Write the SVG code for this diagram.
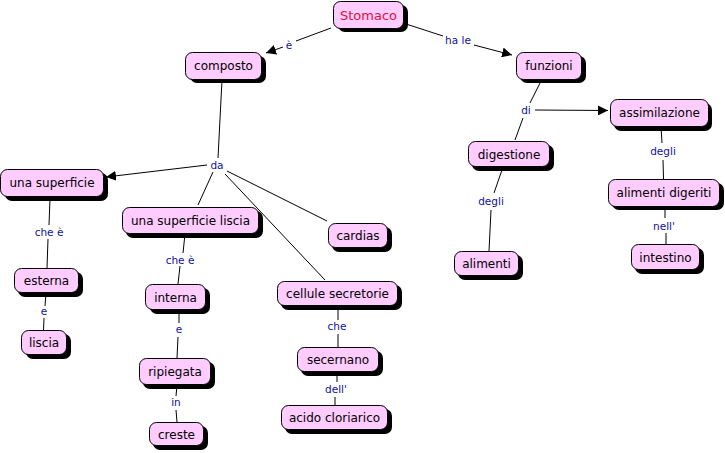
<svg xmlns="http://www.w3.org/2000/svg" width="725" height="453" viewBox="0 0 725 453">
<style>
.sh{fill:#000}
.bx{fill:#ffccff;stroke:#000;stroke-width:1}
.t{font-family:"DejaVu Sans",Verdana,sans-serif;font-size:12px;fill:#000;text-anchor:middle}
.red{fill:#e0103c;font-size:13px}
.lb{font-family:"DejaVu Sans",Verdana,sans-serif;font-size:10.5px;fill:#1010a0;text-anchor:middle}
.ln{stroke:#000;stroke-width:1;fill:none}
</style>
<defs>
<marker id="ah" viewBox="0 0 10 10" refX="10" refY="5" markerWidth="10" markerHeight="10" markerUnits="userSpaceOnUse" orient="auto">
<path d="M0,0 L10,5 L0,10 z" fill="#000"/>
</marker>
</defs>
<rect width="725" height="453" fill="#fff"/>
<g id="connectors">
<line class="ln" x1="331" y1="28" x2="296" y2="41"/>
<line class="ln" x1="283" y1="47" x2="266" y2="53" marker-end="url(#ah)"/>
<text class="lb" x="289" y="49">è</text>
<line class="ln" x1="406" y1="24" x2="443" y2="36"/>
<line class="ln" x1="474" y1="45" x2="512" y2="55" marker-end="url(#ah)"/>
<text class="lb" x="458" y="44">ha le</text>
<line class="ln" x1="540" y1="83" x2="530" y2="103"/>
<line class="ln" x1="523" y1="118" x2="515" y2="140"/>
<text class="lb" x="526" y="114">di</text>
<line class="ln" x1="535" y1="110" x2="608" y2="110.5" marker-end="url(#ah)"/>
<line class="ln" x1="222" y1="80" x2="218" y2="158"/>
<text class="lb" x="217" y="169">da</text>
<line class="ln" x1="207" y1="165" x2="106" y2="177" marker-end="url(#ah)"/>
<line class="ln" x1="213" y1="172" x2="198" y2="205"/>
<line class="ln" x1="227" y1="171" x2="327" y2="221"/>
<line class="ln" x1="225" y1="174" x2="325" y2="280"/>
<line class="ln" x1="50" y1="198" x2="49" y2="225"/>
<text class="lb" x="49" y="236">che è</text>
<line class="ln" x1="48" y1="239" x2="47" y2="268"/>
<line class="ln" x1="46" y1="293" x2="45" y2="306"/>
<text class="lb" x="44" y="315">e</text>
<line class="ln" x1="44" y1="318" x2="43.5" y2="330"/>
<line class="ln" x1="185" y1="234" x2="183" y2="253"/>
<text class="lb" x="180" y="264">che è</text>
<line class="ln" x1="180" y1="266" x2="178" y2="284"/>
<line class="ln" x1="179" y1="310" x2="179" y2="323"/>
<text class="lb" x="179" y="333">e</text>
<line class="ln" x1="178" y1="337" x2="177" y2="358"/>
<line class="ln" x1="177" y1="385" x2="176" y2="396"/>
<text class="lb" x="176" y="406">in</text>
<line class="ln" x1="176" y1="410" x2="177" y2="422"/>
<line class="ln" x1="338" y1="306" x2="338" y2="320"/>
<text class="lb" x="337" y="330">che</text>
<line class="ln" x1="338" y1="334" x2="338" y2="347"/>
<line class="ln" x1="337" y1="372" x2="337" y2="382"/>
<text class="lb" x="336" y="393">dell'</text>
<line class="ln" x1="335" y1="397" x2="335" y2="405"/>
<line class="ln" x1="503" y1="167" x2="494" y2="193"/>
<text class="lb" x="491" y="205">degli</text>
<line class="ln" x1="491" y1="210" x2="489" y2="251"/>
<line class="ln" x1="661" y1="127" x2="662" y2="143"/>
<text class="lb" x="663" y="155">degli</text>
<line class="ln" x1="663" y1="160" x2="663.5" y2="179"/>
<line class="ln" x1="665" y1="207" x2="665" y2="218"/>
<text class="lb" x="664" y="230">nell'</text>
<line class="ln" x1="666" y1="233" x2="666" y2="244"/>
</g>
<g id="n-stomaco"><rect class="sh" x="338" y="5" width="70" height="27" rx="7"/><rect class="bx" x="333.5" y="1.5" width="70" height="27" rx="7"/><text class="t red" x="368.5" y="20">Stomaco</text></g>
<g id="n-composto"><rect class="sh" x="190" y="56" width="76" height="27" rx="7"/><rect class="bx" x="185.5" y="52.5" width="76" height="27" rx="7"/><text class="t" x="223.5" y="70">composto</text></g>
<g id="n-funzioni"><rect class="sh" x="520" y="56" width="66" height="27" rx="7"/><rect class="bx" x="516.5" y="52.5" width="65" height="27" rx="7"/><text class="t" x="549" y="70">funzioni</text></g>
<g id="n-assimilazione"><rect class="sh" x="614" y="103" width="98" height="28" rx="7"/><rect class="bx" x="610.5" y="99.5" width="98" height="27" rx="7"/><text class="t" x="659.5" y="117">assimilazione</text></g>
<g id="n-digestione"><rect class="sh" x="472" y="145" width="82" height="26" rx="7"/><rect class="bx" x="468.5" y="141.5" width="81" height="25" rx="7"/><text class="t" x="509" y="158.5">digestione</text></g>
<g id="n-alimenti"><rect class="sh" x="458" y="255" width="65" height="25" rx="7"/><rect class="bx" x="454.5" y="251.5" width="64" height="24" rx="7"/><text class="t" x="486.5" y="268">alimenti</text></g>
<g id="n-alimenti-digeriti"><rect class="sh" x="612" y="183" width="112" height="27" rx="7"/><rect class="bx" x="608.5" y="179.5" width="111" height="27" rx="7"/><text class="t" x="664" y="197">alimenti digeriti</text></g>
<g id="n-intestino"><rect class="sh" x="635" y="248" width="69" height="26" rx="7"/><rect class="bx" x="631.5" y="244.5" width="68" height="25" rx="7"/><text class="t" x="665.5" y="261.5">intestino</text></g>
<g id="n-una-superficie"><rect class="sh" x="5" y="173" width="103" height="28" rx="7"/><rect class="bx" x="0.5" y="169.5" width="103" height="27" rx="7"/><text class="t" x="52" y="187">una superficie</text></g>
<g id="n-una-superficie-liscia"><rect class="sh" x="126" y="211" width="137" height="27" rx="7"/><rect class="bx" x="122.5" y="207.5" width="136" height="26" rx="7"/><text class="t" x="190.5" y="225">una superficie liscia</text></g>
<g id="n-cardias"><rect class="sh" x="332" y="227" width="60" height="25" rx="7"/><rect class="bx" x="328.5" y="223.5" width="59" height="24" rx="7"/><text class="t" x="358" y="240">cardias</text></g>
<g id="n-esterna"><rect class="sh" x="18" y="272" width="65" height="25" rx="7"/><rect class="bx" x="14.5" y="268.5" width="64" height="24" rx="7"/><text class="t" x="46.5" y="285">esterna</text></g>
<g id="n-liscia"><rect class="sh" x="26" y="334" width="45" height="25" rx="7"/><rect class="bx" x="21.5" y="330.5" width="45" height="24" rx="7"/><text class="t" x="44" y="347">liscia</text></g>
<g id="n-interna"><rect class="sh" x="150" y="288" width="60" height="26" rx="7"/><rect class="bx" x="145.5" y="284.5" width="60" height="25" rx="7"/><text class="t" x="175.5" y="301.5">interna</text></g>
<g id="n-ripiegata"><rect class="sh" x="143" y="362" width="72" height="27" rx="7"/><rect class="bx" x="139.5" y="358.5" width="71" height="26" rx="7"/><text class="t" x="175" y="376">ripiegata</text></g>
<g id="n-creste"><rect class="sh" x="153" y="426" width="55" height="24" rx="7"/><rect class="bx" x="149.5" y="422.5" width="54" height="23" rx="7"/><text class="t" x="176.5" y="438.5">creste</text></g>
<g id="n-cellule-secretorie"><rect class="sh" x="281" y="285" width="121" height="25" rx="7"/><rect class="bx" x="277.5" y="281.5" width="120" height="24" rx="7"/><text class="t" x="337.5" y="298">cellule secretorie</text></g>
<g id="n-secernano"><rect class="sh" x="301" y="351" width="82" height="25" rx="7"/><rect class="bx" x="297.5" y="347.5" width="81" height="24" rx="7"/><text class="t" x="338" y="364">secernano</text></g>
<g id="n-acido-cloriarico"><rect class="sh" x="285" y="409" width="107" height="25" rx="7"/><rect class="bx" x="281.5" y="405.5" width="106" height="24" rx="7"/><text class="t" x="334.5" y="422">acido cloriarico</text></g>
</svg>
